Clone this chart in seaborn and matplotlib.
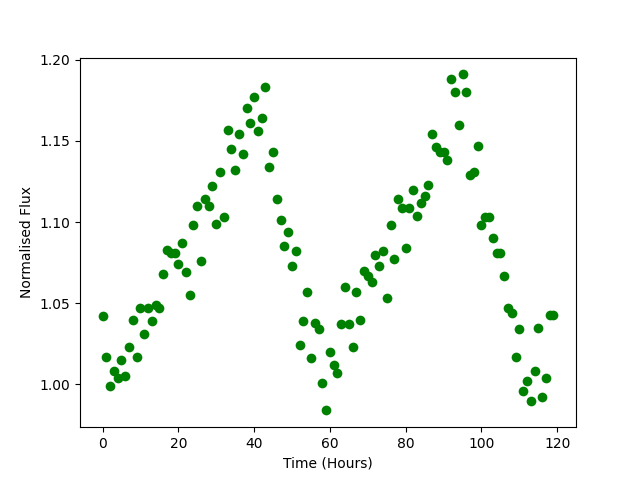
import numpy as np
import pandas as pd
import matplotlib
matplotlib.use("Agg")
import matplotlib.pyplot as plt
import seaborn as sns

hours = list(range(120))
flux = [
    1.042, 1.017, 0.999, 1.008, 1.004, 1.015, 1.005, 1.023, 1.040, 1.017,
    1.047, 1.031, 1.047, 1.039, 1.049, 1.047, 1.068, 1.083, 1.081, 1.081,
    1.074, 1.087, 1.069, 1.055, 1.098, 1.110, 1.076, 1.114, 1.110, 1.122,
    1.099, 1.131, 1.103, 1.157, 1.145, 1.132, 1.154, 1.142, 1.170, 1.161,
    1.177, 1.156, 1.164, 1.183, 1.134, 1.143, 1.114, 1.101, 1.085, 1.094,
    1.073, 1.082, 1.024, 1.039, 1.057, 1.016, 1.038, 1.034, 1.001, 0.984,
    1.020, 1.012, 1.007, 1.037, 1.060, 1.037, 1.023, 1.057, 1.040, 1.070,
    1.067, 1.063, 1.080, 1.073, 1.082, 1.053, 1.098, 1.077, 1.114, 1.109,
    1.084, 1.109, 1.120, 1.104, 1.112, 1.116, 1.123, 1.154, 1.146, 1.143,
    1.143, 1.138, 1.188, 1.180, 1.160, 1.191, 1.180, 1.129, 1.131, 1.147,
    1.098, 1.103, 1.103, 1.090, 1.081, 1.081, 1.067, 1.047, 1.044, 1.017,
    1.034, 0.996, 1.002, 0.990, 1.008, 1.035, 0.992, 1.004, 1.043, 1.043,
]

df = pd.DataFrame({"Time (Hours)": hours, "Normalised Flux": flux})

fig, ax = plt.subplots(figsize=(6.4, 4.8), dpi=100)
sns.scatterplot(data=df, x="Time (Hours)", y="Normalised Flux",
                color="green", s=49, linewidth=0, ax=ax)
ax.set_yticks([1.00, 1.05, 1.10, 1.15, 1.20])
ax.set_xticks([0, 20, 40, 60, 80, 100, 120])

plt.savefig("out.png")
